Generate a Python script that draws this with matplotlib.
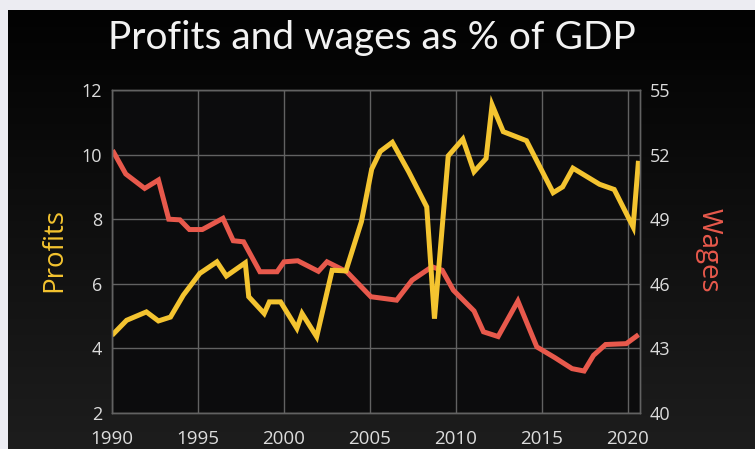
#!/usr/bin/env python3
"""Profits and wages as % of GDP - twin axis line chart on a dark slide."""

import matplotlib
matplotlib.use("Agg")
import matplotlib.pyplot as plt
import numpy as np
from matplotlib.colors import LinearSegmentedColormap

# Profits (% of GDP), left axis
profit_years = [1990.1, 1990.85, 1992.0, 1992.7, 1993.4, 1994.15, 1995.1, 1996.1,
                1996.65, 1997.75, 1997.95, 1998.85, 1999.15, 1999.8, 2000.75,
                2001.05, 2001.9, 2002.8, 2003.6, 2004.5, 2005.1, 2005.6, 2006.3,
                2007.25, 2007.8, 2008.3, 2008.75, 2009.55, 2010.4, 2011.05,
                2011.75, 2012.1, 2012.75, 2014.1, 2015.65, 2016.2, 2016.8,
                2018.35, 2019.2, 2020.3, 2020.6]
profits = [4.46, 4.87, 5.13, 4.85, 4.97, 5.65, 6.32, 6.68,
           6.24, 6.65, 5.6, 5.08, 5.44, 5.44, 4.62,
           5.08, 4.36, 6.42, 6.40, 7.92, 9.55, 10.1, 10.38,
           9.47, 8.9, 8.38, 4.92, 9.96, 10.48, 9.47,
           9.88, 11.54, 10.71, 10.43, 8.82, 9.0, 9.58,
           9.08, 8.92, 7.76, 9.73]

# Wages (% of GDP), right axis
wage_years = [1990.1, 1990.8, 1991.9, 1992.7, 1993.3, 1993.95, 1994.5, 1995.25,
              1996.45, 1997.05, 1997.65, 1998.6, 1999.6, 2000.0, 2000.8,
              2002.0, 2002.5, 2003.65, 2005.05, 2006.55, 2007.45, 2008.6,
              2009.2, 2009.85, 2011.05, 2011.6, 2012.45, 2013.6, 2014.7,
              2015.75, 2016.75, 2017.45, 2018.0, 2018.7, 2019.9, 2020.5]
wages = [52.1, 51.1, 50.43, 50.82, 49.0, 48.97, 48.52, 48.52,
         49.04, 48.0, 47.95, 46.56, 46.56, 47.02, 47.07,
         46.58, 47.02, 46.56, 45.4, 45.24, 46.17, 46.79,
         46.63, 45.7, 44.74, 43.77, 43.55, 45.2, 43.07,
         42.57, 42.06, 41.95, 42.68, 43.18, 43.22, 43.57]

x_ticks = [1990, 1995, 2000, 2005, 2010, 2015, 2020]
profit_ticks = [2, 4, 6, 8, 10, 12]
wage_ticks = [40, 43, 46, 49, 52, 55]

YELLOW = '#f4c430'
RED = '#e8594c'
TEXT = '#dcdcdc'
GRID = '#626262'

plt.rcParams['font.family'] = ['Open Sans', 'DejaVu Sans']

W, H = 755, 449
fig = plt.figure(figsize=(W / 100, H / 100), dpi=100, facecolor='#ececf2')

# dark slide background with a soft vertical gradient
bg = fig.add_axes([8 / W, 0, 1 - 8 / W, 1 - 10 / H])
grad = np.linspace(0, 1, 256).reshape(-1, 1)
cmap = LinearSegmentedColormap.from_list('slide', ['#020202', '#1d1d1d'])
bg.imshow(grad, aspect='auto', cmap=cmap, extent=[0, 1, 0, 1])
bg.axis('off')

# wages axis at the bottom (carries the grid), profits twin drawn on top
ax_w = fig.add_axes([112 / W, 1 - 413 / H, 528 / W, 323 / H])
ax_w.set_facecolor('#0c0c0d')
ax_p = ax_w.twinx()

ax_w.plot(wage_years, wages, color=RED, linewidth=3.6, solid_joinstyle='miter')
ax_p.plot(profit_years, profits, color=YELLOW, linewidth=3.6, solid_joinstyle='miter')

ax_w.set_xlim(1990, 2020.7)
ax_w.set_ylim(40, 55)
ax_p.set_ylim(2, 12)
ax_w.set_xticks(x_ticks)
ax_w.set_yticks(wage_ticks)
ax_p.set_yticks(profit_ticks)

ax_p.yaxis.tick_left()
ax_p.yaxis.set_label_position('left')
ax_w.yaxis.tick_right()
ax_w.yaxis.set_label_position('right')

ax_w.grid(True, color=GRID, linewidth=1.0)
ax_w.set_axisbelow(True)

for a in (ax_w, ax_p):
    for s in a.spines.values():
        s.set_color(GRID)
        s.set_linewidth(1.0)
    a.tick_params(length=0, labelcolor=TEXT, labelsize=13)

ax_w.tick_params(axis='x', pad=12, labelsize=13.5)
ax_p.tick_params(axis='y', pad=7)
ax_w.tick_params(axis='y', pad=7)

ax_p.set_ylabel('Profits', color=YELLOW, fontsize=20, ha='center', va='center')
ax_p.yaxis.set_label_coords(-0.11, 0.505)
ax_w.set_ylabel('Wages', color=RED, fontsize=20, rotation=270, ha='center', va='center')
ax_w.yaxis.set_label_coords(1.129, 0.505)

fig.text(372 / W, 1 - 38 / H, 'Profits and wages as % of GDP', color='#f2f2f2',
         fontsize=28, family=['Lato', 'DejaVu Sans'],
         ha='center', va='center')

fig.savefig('out.png', dpi=100, facecolor=fig.get_facecolor())
